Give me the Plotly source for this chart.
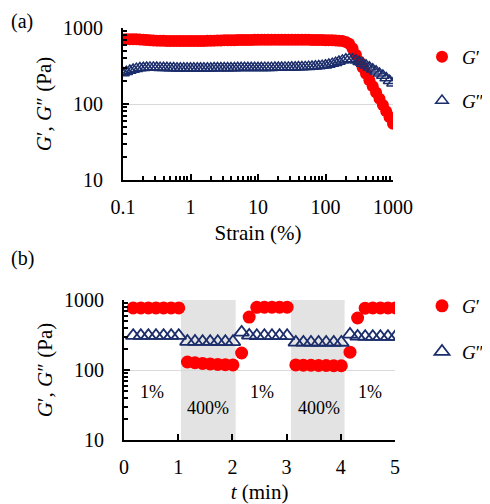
import plotly.graph_objects as go
import math

# ---------------- Panel (a): strain sweep ----------------
strain = [0.1, 0.112, 0.126, 0.141, 0.158, 0.178, 0.2, 0.224, 0.251, 0.282,
          0.316, 0.355, 0.398, 0.447, 0.501, 0.562, 0.631, 0.708, 0.794, 0.891,
          1, 1.12, 1.26, 1.41, 1.58, 1.78, 2, 2.24, 2.51, 2.82,
          3.16, 3.55, 3.98, 4.47, 5.01, 5.62, 6.31, 7.08, 7.94, 8.91,
          10, 11.2, 12.6, 14.1, 15.8, 17.8, 20, 22.4, 25.1, 28.2,
          31.6, 35.5, 39.8, 44.7, 50.1, 56.2, 63.1, 70.8, 79.4, 89.1,
          100, 112, 126, 141, 158, 178, 200, 224, 251, 282,
          316, 355, 398, 447, 501, 562, 631, 708, 794, 891, 1000]

g1_a = [705, 710, 712, 712, 710, 706, 700, 695, 690, 686,
        682, 680, 678, 676, 675, 674, 673, 672, 672, 672,
        672, 673, 674, 675, 676, 678, 680, 682, 684, 686,
        688, 690, 691, 692, 693, 694, 695, 696, 697, 698,
        698, 699, 700, 700, 700, 701, 701, 701, 701, 700,
        700, 700, 699, 699, 698, 698, 697, 696, 695, 694,
        692, 690, 688, 685, 680, 672, 655, 620, 540, 445,
        365, 302, 250, 206, 171, 142, 117, 97, 80, 67, 55]

g2_a = [255, 266, 276, 285, 292, 297, 300, 302, 303, 303,
        302, 301, 300, 299, 298, 297, 296, 296, 295, 295,
        295, 295, 295, 295, 296, 296, 296, 297, 297, 297,
        298, 298, 298, 298, 299, 299, 299, 300, 300, 300,
        300, 300, 301, 301, 301, 302, 302, 302, 303, 303,
        304, 305, 306, 307, 308, 310, 312, 314, 317, 320,
        324, 331, 340, 350, 362, 375, 388, 392, 388, 377,
        360, 342, 323, 305, 287, 270, 253, 237, 220, 203, 188]

x_ticks_a = [0.1, 1, 10, 100, 1000]
x_ticktext_a = ["0.1", "1", "10", "100", "1000"]
y_ticks = [10, 100, 1000]
y_ticktext = ["10", "100", "1000"]

# ---------------- Panel (b): step strain ----------------
t_min = [0.17, 0.31, 0.45, 0.59, 0.73, 0.87, 1.01,
         1.17, 1.31, 1.45, 1.59, 1.73, 1.87, 2.01,
         2.17, 2.31, 2.45, 2.59, 2.73, 2.87, 3.01,
         3.17, 3.31, 3.45, 3.59, 3.73, 3.87, 4.01,
         4.17, 4.31, 4.45, 4.59, 4.73, 4.87, 5.01]

g1_b = [770, 770, 770, 770, 770, 770, 770,
        130, 127, 124, 122, 120, 119, 118,
        175, 570, 785, 790, 790, 790, 790,
        118, 117, 117, 116, 116, 115, 115,
        180, 553, 765, 770, 770, 770, 770]

g2_b = [310, 310, 310, 310, 310, 310, 310,
        255, 255, 254, 254, 253, 253, 253,
        345, 312, 308, 308, 308, 308, 308,
        248, 248, 247, 247, 247, 247, 247,
        322, 302, 300, 300, 300, 300, 300]

x_ticks_b = [0, 1, 2, 3, 4, 5]
shade_periods = [(1.05, 2.06), (3.08, 4.07)]
strain_labels = ["1%", "400%", "1%", "400%", "1%"]
label_t = [0.52, 1.55, 2.55, 3.6, 4.53]
label_val = [48, 28.5, 48, 28.5, 48]

minor_log = [v * m for m in (10, 100) for v in range(2, 10)]
minor_log_x = [v * m for m in (0.1, 1, 10, 100) for v in range(2, 10)]

RED = "#ff0000"
NAVY = "#1b2d6b"
SERIF = "'Liberation Serif', 'Times New Roman', serif"

# page body has an 8px margin: lay out in screen pixels of the 490x504 window
W, H, OFF = 490, 504, 8
FW, FH = W - OFF, H - OFF


def px(x):
    return (x - OFF) / FW


def py(y):
    return 1 - (y - OFF) / FH


fig = go.Figure()
fig.add_trace(go.Scatter(x=strain, y=g1_a, mode="markers", name="<i>G</i>′",
                         marker=dict(symbol="circle", size=12, color=RED),
                         xaxis="x", yaxis="y", legend="legend", legendgroup="a1"))
fig.add_trace(go.Scatter(x=strain, y=g2_a, mode="markers", name="<i>G</i>″",
                         marker=dict(symbol="triangle-up-open", size=11, color=NAVY,
                                     line=dict(width=1.5, color=NAVY)),
                         xaxis="x", yaxis="y", legend="legend", legendgroup="a2"))
fig.add_trace(go.Scatter(x=t_min, y=g1_b, mode="markers", name="<i>G</i>′",
                         marker=dict(symbol="circle", size=13, color=RED),
                         xaxis="x2", yaxis="y2", legend="legend2", legendgroup="b1"))
fig.add_trace(go.Scatter(x=t_min, y=g2_b, mode="markers", name="<i>G</i>″",
                         marker=dict(symbol="triangle-up-open", size=13, color=NAVY,
                                     line=dict(width=1.8, color=NAVY)),
                         xaxis="x2", yaxis="y2", legend="legend2", legendgroup="b2"))

axis_common = dict(showline=True, linecolor="black", linewidth=2, ticks="inside",
                   ticklen=6, tickwidth=1.5, tickcolor="black", zeroline=False,
                   automargin=False,
                   tickfont=dict(family=SERIF, size=20, color="black"))

shapes = []
for x0, x1 in shade_periods:
    shapes.append(dict(type="rect", xref="x2", yref="y2 domain", x0=x0, x1=x1, y0=0, y1=1,
                       fillcolor="#e3e3e3", line=dict(width=0), layer="below"))

annotations = [
    dict(text="(a)", xref="paper", yref="paper", x=px(22), y=py(22),
         xanchor="center", yanchor="middle",
         showarrow=False, font=dict(family=SERIF, size=20, color="black")),
    dict(text="(b)", xref="paper", yref="paper", x=px(22), y=py(258),
         xanchor="center", yanchor="middle",
         showarrow=False, font=dict(family=SERIF, size=20, color="black")),
]
for txt, tx, tv in zip(strain_labels, label_t, label_val):
    annotations.append(dict(text=txt, xref="x2", yref="y2", x=tx, y=math.log10(tv),
                            showarrow=False, font=dict(family=SERIF, size=18, color="black")))

fig.update_layout(
    width=FW, height=FH,
    margin=dict(l=0, r=0, t=0, b=0),
    paper_bgcolor="white", plot_bgcolor="white",
    font=dict(family=SERIF, size=20, color="black"),
    xaxis=dict(type="log", domain=[px(123), px(393)], anchor="y", range=[-1, 3],
               tickvals=x_ticks_a, ticktext=x_ticktext_a, showgrid=False,
               minor=dict(tickvals=minor_log_x, ticks="inside", ticklen=4, tickcolor="black", showgrid=False),
               ticklabelstandoff=8,
               title=dict(text="Strain (%)", font=dict(family=SERIF, size=21), standoff=8),
               **axis_common),
    yaxis=dict(type="log", domain=[py(180), py(28)], anchor="x", range=[1, 3],
               tickvals=y_ticks, ticktext=y_ticktext, showgrid=True, gridcolor="#d9d9d9", gridwidth=1,
               minor=dict(tickvals=minor_log, ticks="inside", ticklen=4, tickcolor="black", showgrid=False),
               ticklabelstandoff=14,
               title=dict(text="<i>G</i>′, <i>G</i>″ (Pa)", font=dict(family=SERIF, size=21), standoff=6),
               **axis_common),
    xaxis2=dict(domain=[px(124), px(395)], anchor="y2", range=[0, 5],
                tickvals=x_ticks_b, showgrid=False, ticklabelstandoff=8,
                title=dict(text="<i>t</i> (min)", font=dict(family=SERIF, size=21), standoff=14),
                **axis_common),
    yaxis2=dict(type="log", domain=[py(440), py(300)], anchor="x2", range=[1, 3],
                tickvals=y_ticks, ticktext=y_ticktext, showgrid=True, gridcolor="#d9d9d9", gridwidth=1,
                minor=dict(tickvals=minor_log, ticks="inside", ticklen=4, tickcolor="black", showgrid=False),
                ticklabelstandoff=14,
                title=dict(text="<i>G</i>′, <i>G</i>″ (Pa)", font=dict(family=SERIF, size=21), standoff=6),
                **axis_common),
    legend=dict(x=px(422), y=py(38), xanchor="left", yanchor="top",
                font=dict(family=SERIF, size=19), tracegroupgap=16, bgcolor="rgba(0,0,0,0)"),
    legend2=dict(x=px(422), y=py(287), xanchor="left", yanchor="top",
                 font=dict(family=SERIF, size=19), tracegroupgap=18, bgcolor="rgba(0,0,0,0)"),
    shapes=shapes,
    annotations=annotations,
)

fig.write_html("out.html")
